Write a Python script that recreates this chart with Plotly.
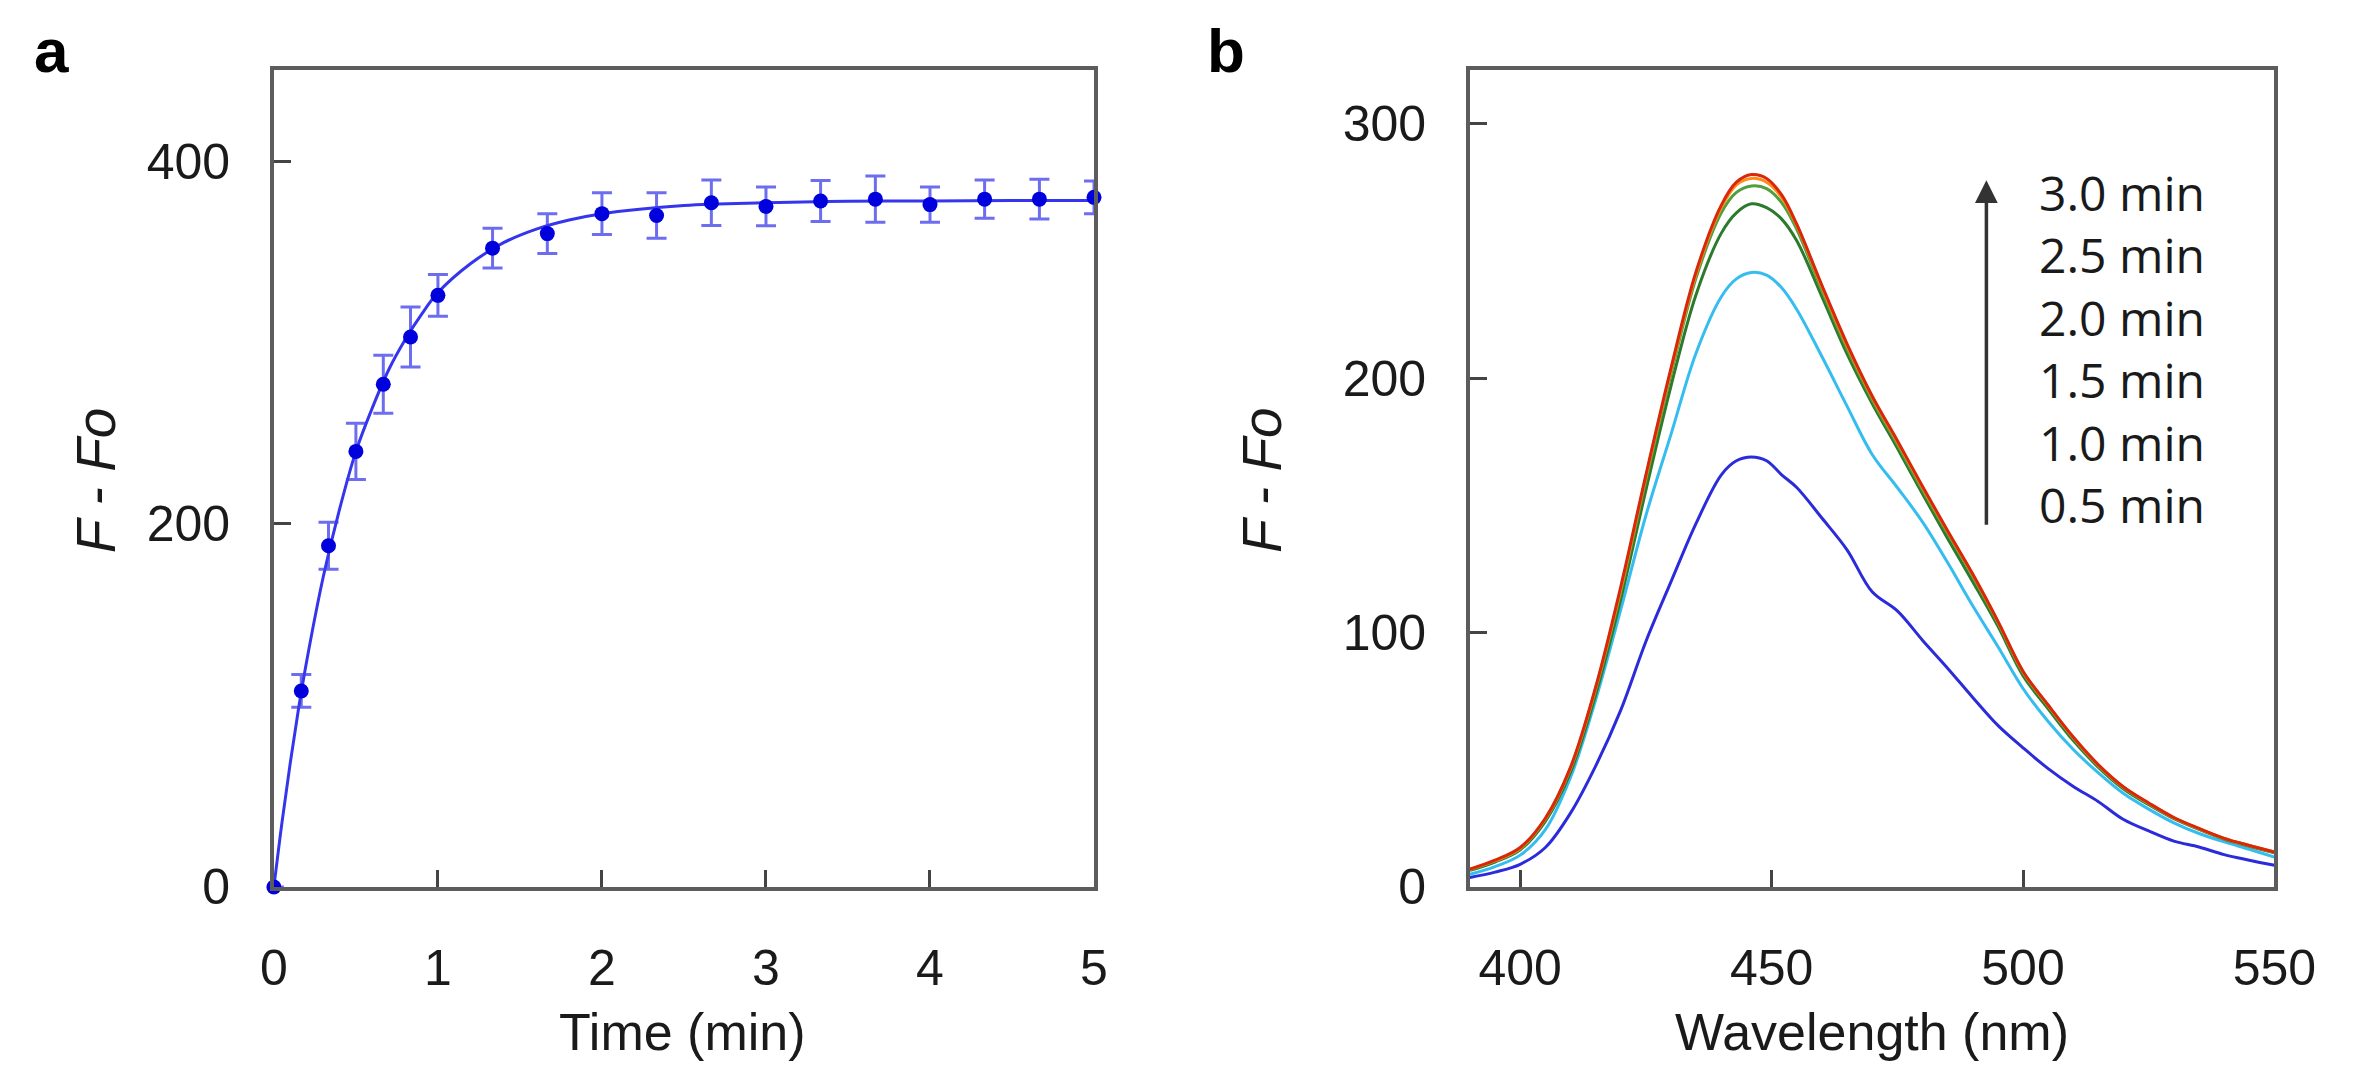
import plotly.graph_objects as go

# Panel a: kinetics of F - Fo (mean +/- error)
time_min = [0, 0.167, 0.333, 0.5, 0.667, 0.833, 1.0, 1.333, 1.667, 2.0,
            2.333, 2.667, 3.0, 3.333, 3.667, 4.0, 4.333, 4.667, 5.0]
signal = [0, 108, 188, 240, 277, 303, 326, 352, 360, 371,
          370, 377, 375, 378, 379, 376, 379, 379, 380]
signal_err = [0, 9, 13, 15.5, 16, 16.5, 11.5, 11, 11, 11.5,
              12.5, 12.5, 10.7, 11.3, 12.8, 9.7, 10.5, 11, 9]

# fitted curve drawn through the points
fit_t = [0, 0.05, 0.1, 0.15, 0.2, 0.3, 0.4, 0.5, 0.6, 0.7, 0.8, 0.9, 1.0,
         1.2, 1.4, 1.6, 1.8, 2.0, 2.5, 3.0, 3.5, 4.0, 4.5, 5.0]
fit_y = [0, 36, 68.5, 98, 124.5, 170.5, 208, 240, 264, 285, 301.5, 315.5, 327.5,
         343.5, 355, 362.5, 367.5, 371, 375.5, 377, 377.8, 378, 378.2, 378.3]

# Panel b: emission spectra at different times
wavelength = [390, 395, 400, 405, 410, 415, 420, 425, 430, 435, 440, 443, 446, 449,
              452, 455, 460, 465, 470, 475, 480, 485, 490, 495, 500, 505, 510, 515,
              520, 525, 530, 535, 540, 545, 550]
spec_05 = [3.7, 5.8, 8.9, 15.5, 29, 47.5, 69.5, 96.5, 120, 143, 162, 167.5, 169, 167.5,
           162, 157, 145, 132.5, 116, 108.5, 97, 86, 74.5, 63.5, 54.7, 46.5, 39.5, 33.5,
           26.5, 22, 18, 15.7, 12.7, 10.5, 8.5]
spec_10 = [5, 8, 12.5, 22.5, 43, 73.5, 109, 146, 178, 210, 232, 239, 241.5, 240.5,
           235.5, 227, 208.5, 189, 170, 157, 143.5, 127.5, 110.5, 94.5, 78, 65, 54, 44.8,
           36.7, 30.6, 25.2, 21, 17.7, 14.8, 11.7]
spec_15 = [6.5, 9.8, 14.6, 25.8, 45, 75.5, 113, 156, 197, 233, 257, 265, 268.5, 267,
           262.5, 254, 232, 209.5, 190, 172.5, 154.5, 137, 120, 102.5, 83, 70, 57.5, 47,
           38.5, 32.3, 26.8, 22.6, 18.8, 16, 13.4]
spec_20 = [6.8, 10.1, 15.0, 26.5, 46.3, 77.5, 116, 160, 201.5, 239.5, 265, 273, 275.5, 274.5,
           269, 258.5, 234.5, 211.5, 191.5, 174, 156, 139, 122, 103.8, 84.2, 71, 58.4, 47.6,
           39, 32.7, 27.1, 22.8, 19, 16.2, 13.6]
spec_25 = [6.9, 10.3, 15.2, 26.8, 46.7, 78, 117, 161.2, 203, 241, 267, 276, 278.5, 277,
           271, 260, 235.8, 212.8, 192.5, 175, 157, 139.7, 122.7, 104.3, 84.6, 71.3, 58.7, 47.8,
           39.2, 32.9, 27.2, 22.9, 19.1, 16.3, 13.7]
spec_30 = [7, 10.5, 15.5, 27, 47, 78.5, 118, 162, 204, 242, 268, 277, 280, 278.5,
           272, 260.5, 236.5, 213.5, 193, 175.5, 157.5, 140, 123, 104.5, 84.8, 71.5, 58.9, 48,
           39.3, 33, 27.3, 23, 19.1, 16.3, 13.7]

spectra = [spec_05, spec_10, spec_15, spec_20, spec_25, spec_30]
spec_labels = ['0.5 min', '1.0 min', '1.5 min', '2.0 min', '2.5 min', '3.0 min']
spec_colors = ['#2b2bdb', '#35bdf0', '#2c7a2c', '#4f9e3f', '#ff8c1a', '#d8280a']

# размер фигуры в пикселях
W, H = 2367, 1088


def px(x):
    return x / W


def py(y):
    return 1 - y / H


fig = go.Figure()

# панель a
fig.add_trace(go.Scatter(x=fit_t, y=fit_y, mode='lines', line_shape='spline',
                         line=dict(color='#3535ee', width=3), xaxis='x', yaxis='y',
                         hoverinfo='skip'))
fig.add_trace(go.Scatter(x=time_min, y=signal, mode='markers',
                         marker=dict(color='#0000dd', size=15),
                         error_y=dict(type='data', array=signal_err, color='rgba(60,60,235,0.75)',
                                      thickness=3, width=10),
                         cliponaxis=False, xaxis='x', yaxis='y'))

# панель b
for ys, name, col in zip(spectra, spec_labels, spec_colors):
    fig.add_trace(go.Scatter(x=wavelength, y=ys, mode='lines', name=name,
                             line=dict(color=col, width=3), line_shape='spline',
                             xaxis='x2', yaxis='y2'))

tick_font = dict(family='Liberation Sans, Arial, sans-serif', size=50, color='#1a1a1a')
axis_common = dict(showline=True, linecolor='#5c5c5c', linewidth=3.5, mirror=True,
                   ticks='inside', ticklen=17, tickwidth=3, tickcolor='#444444',
                   showgrid=False, zeroline=False, tickfont=tick_font)

fig.update_layout(
    width=W, height=H,
    margin=dict(l=0, r=0, t=0, b=0),
    paper_bgcolor='white', plot_bgcolor='white',
    showlegend=False,
    xaxis=dict(domain=[px(258), px(1098)], range=[0, 5], tickvals=[0, 1, 2, 3, 4, 5],
               ticklabelstandoff=34, anchor='y', **axis_common),
    yaxis=dict(domain=[py(903), py(64)], range=[0, 450], tickvals=[0, 200, 400],
               ticklabelstandoff=30, anchor='x', **axis_common),
    xaxis2=dict(domain=[px(1483), px(2307)], range=[390, 550], tickvals=[400, 450, 500, 550],
                ticklabelstandoff=34, anchor='y2', **axis_common),
    yaxis2=dict(domain=[py(903), py(64)], range=[0, 321], tickvals=[0, 100, 200, 300],
                ticklabelstandoff=30, anchor='x2', **axis_common),
)

title_font = dict(family='Liberation Sans, Arial, sans-serif', size=52, color='#1a1a1a')
ytitle_font = dict(family='Liberation Sans, Arial, sans-serif', size=55, color='#1a1a1a')
panel_font = dict(family='Liberation Sans, Arial, sans-serif', size=62, color='black')
notes = [
    dict(text='<b>a</b>', x=px(30), y=py(44), font=panel_font),
    dict(text='<b>b</b>', x=px(1233), y=py(44), font=panel_font),
    dict(text='Time (min)', x=px(677), y=py(1052), font=title_font),
    dict(text='Wavelength (nm)', x=px(1895), y=py(1052), font=title_font),
    dict(text='<i>F - Fo</i>', x=px(76), y=py(485), textangle=-90, font=ytitle_font),
    dict(text='<i>F - Fo</i>', x=px(1270), y=py(485), textangle=-90, font=ytitle_font),
]
for n in notes:
    fig.add_annotation(xref='paper', yref='paper', showarrow=False,
                       xanchor='center', yanchor='middle', **n)

# подписи времени со стрелкой
legend_font = dict(family='Open Sans, Noto Sans, sans-serif', size=48, color='#1a1a1a')
fig.add_annotation(xref='paper', yref='paper', x=px(2064), y=py(350),
                   text='<br>'.join(reversed(spec_labels)), align='left',
                   showarrow=False, xanchor='left', yanchor='middle', font=legend_font)
fig.add_annotation(xref='paper', yref='paper', x=px(2012), y=py(177), text='',
                   showarrow=True, ax=0, ay=346, arrowhead=2, arrowsize=1.3,
                   arrowwidth=3.5, arrowcolor='#333333')

fig.write_html("out.html")
